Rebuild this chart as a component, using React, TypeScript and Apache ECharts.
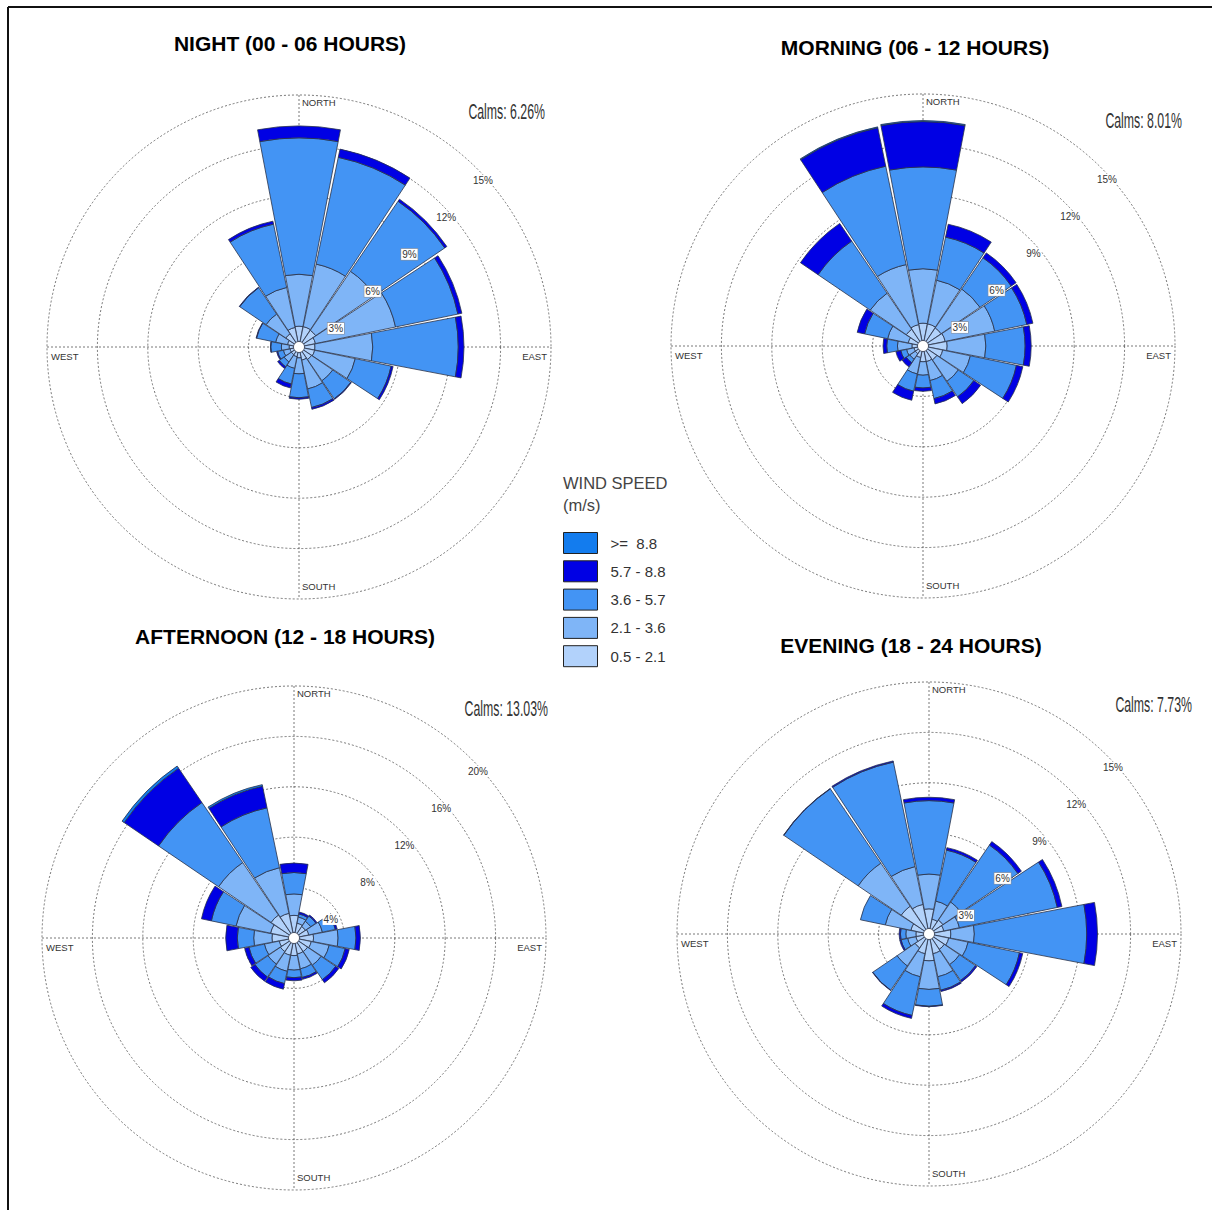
import React, { useEffect, useRef } from "react";
import * as echarts from "echarts";

// Sixteen compass sectors, clockwise from north
const DIRECTIONS = ["N", "NNE", "NE", "ENE", "E", "ESE", "SE", "SSE", "S", "SSW", "SW", "WSW", "W", "WNW", "NW", "NNW"];

// Wind speed classes (m/s), innermost first
const SPEED_CLASSES = ["0.5 - 2.1", "2.1 - 3.6", "3.6 - 5.7", "5.7 - 8.8", ">=  8.8"];
const SPEED_COLORS = ["#b2d2fb", "#7fb5f7", "#4394f4", "#0000e4", "#137cee"];

// Ring tick values (%)
const TICKS_3 = [3, 6, 9, 12, 15];
const TICKS_4 = [4, 8, 12, 16, 20];

// NIGHT (00 - 06 HOURS): frequency (%) per direction for each speed class
const NIGHT_05_21 = [1.24, 1.24, 1.2, 1.0, 0.95, 0.95, 0.9, 0.8, 0.65, 0.59, 0.55, 0.55, 0.59, 0.7, 0.95, 1.19];
const NIGHT_21_36 = [3.09, 3.8, 4.25, 4.87, 3.44, 2.47, 1.53, 1.75, 0.95, 0.71, 0.52, 0.4, 0.46, 0.72, 1.42, 2.43];
const NIGHT_36_57 = [8.12, 6.49, 5.04, 3.79, 5.09, 2.18, 1.3, 1.13, 1.42, 0.95, 0.35, 0.35, 0.63, 1.16, 1.9, 3.85];
const NIGHT_57_88 = [0.71, 0.5, 0.15, 0.24, 0.34, 0.12, 0.04, 0.11, 0.09, 0.24, 0.12, 0.06, 0.02, 0.03, 0.03, 0.18];
const NIGHT_88_UP = [0, 0, 0, 0, 0, 0, 0, 0, 0, 0, 0, 0, 0, 0, 0, 0];

// MORNING (06 - 12 HOURS)
const MORNING_05_21 = [1.36, 1.35, 1.3, 1.35, 1.44, 1.2, 1.0, 0.95, 0.94, 0.7, 0.55, 0.55, 0.66, 0.9, 1.2, 1.3];
const MORNING_21_36 = [3.24, 2.65, 2.8, 3.01, 2.3, 1.68, 1.54, 1.15, 0.8, 1.0, 0.4, 0.45, 0.86, 1.25, 2.6, 3.65];
const MORNING_36_57 = [6.06, 2.62, 2.25, 1.95, 2.34, 2.8, 1.12, 1.1, 0.76, 1.05, 0.25, 0.35, 0.64, 1.4, 3.75, 5.98];
const MORNING_57_88 = [2.7, 0.78, 0.35, 0.37, 0.36, 0.39, 0.49, 0.32, 0.2, 0.55, 0.3, 0.3, 0.22, 0.45, 1.27, 2.34];
const MORNING_88_UP = [0.06, 0, 0, 0, 0, 0, 0, 0, 0, 0, 0, 0, 0, 0, 0, 0.05];

// AFTERNOON (12 - 18 HOURS)
const AFTERNOON_05_21 = [1.8, 1.2, 1.1, 1.2, 1.55, 1.4, 1.3, 1.3, 1.4, 1.4, 1.3, 1.2, 1.75, 1.9, 2.2, 2.0];
const AFTERNOON_21_36 = [1.7, 0.5, 0.5, 1.1, 1.95, 1.45, 1.3, 1.2, 1.15, 1.3, 1.2, 1.2, 1.45, 2.8, 5.04, 3.7];
const AFTERNOON_36_57 = [1.7, 0.25, 0.5, 1.05, 1.42, 1.3, 1.4, 0.7, 0.6, 1.0, 1.25, 1.25, 1.3, 2.0, 5.76, 4.85];
const AFTERNOON_57_88 = [0.75, 0.15, 0.1, 0.15, 0.35, 0.33, 0.3, 0.15, 0.25, 0.45, 0.4, 0.35, 0.92, 0.8, 3.3, 1.75];
const AFTERNOON_88_UP = [0, 0, 0, 0, 0, 0, 0, 0, 0, 0, 0, 0, 0, 0, 0.2, 0.13];

// EVENING (18 - 24 HOURS)
const EVENING_05_21 = [1.5, 0.9, 1.0, 0.9, 1.3, 1.2, 1.1, 1.2, 1.6, 1.2, 1.0, 0.8, 0.78, 1.1, 2.0, 1.8];
const EVENING_21_36 = [2.07, 1.1, 1.3, 0.95, 1.4, 1.18, 1.1, 1.4, 1.7, 1.4, 1.3, 0.5, 0.6, 1.56, 3.1, 2.3];
const EVENING_36_57 = [4.37, 3.1, 4.1, 5.95, 6.69, 3.12, 1.15, 0.82, 1.0, 2.35, 1.75, 0.4, 0.32, 1.51, 5.35, 6.35];
const EVENING_57_88 = [0.2, 0.15, 0.25, 0.28, 0.64, 0.2, 0.1, 0.08, 0.03, 0.18, 0.02, 0.08, 0.08, 0, 0.02, 0.07];
const EVENING_88_UP = [0, 0, 0, 0, 0, 0, 0, 0, 0, 0, 0, 0, 0, 0, 0, 0];

const ROSES = [
  { title: "NIGHT (00 - 06 HOURS)", calms: "Calms: 6.26%", ticks: TICKS_3,
    bands: [NIGHT_05_21, NIGHT_21_36, NIGHT_36_57, NIGHT_57_88, NIGHT_88_UP] },
  { title: "MORNING (06 - 12 HOURS)", calms: "Calms: 8.01%", ticks: TICKS_3,
    bands: [MORNING_05_21, MORNING_21_36, MORNING_36_57, MORNING_57_88, MORNING_88_UP] },
  { title: "AFTERNOON (12 - 18 HOURS)", calms: "Calms: 13.03%", ticks: TICKS_4,
    bands: [AFTERNOON_05_21, AFTERNOON_21_36, AFTERNOON_36_57, AFTERNOON_57_88, AFTERNOON_88_UP] },
  { title: "EVENING (18 - 24 HOURS)", calms: "Calms: 7.73%", ticks: TICKS_3,
    bands: [EVENING_05_21, EVENING_21_36, EVENING_36_57, EVENING_57_88, EVENING_88_UP] },
];

// Placement of each rose on the page
const LAYOUT = [
  { cx: 299, cy: 347, title: [290, 43], calms: [545, 112] },
  { cx: 923, cy: 346, title: [915, 47], calms: [1182, 121] },
  { cx: 294, cy: 938, title: [285, 636], calms: [548, 709] },
  { cx: 929, cy: 934, title: [911, 645], calms: [1192, 705] },
];
const ROSE_RADIUS = 252;
const FONT = '"Liberation Sans", Arial, Helvetica, sans-serif';
const GRID_COLOR = "#555";
const OUTLINE = "#28324a";

function buildOption() {
  const polar: any[] = [];
  const angleAxis: any[] = [];
  const radiusAxis: any[] = [];
  const series: any[] = [];
  const graphic: any[] = [];

  ROSES.forEach((rose, i) => {
    const { cx, cy } = LAYOUT[i];
    const R = ROSE_RADIUS;
    const max = rose.ticks[rose.ticks.length - 1];
    const step = rose.ticks[0];

    polar.push({ center: [cx, cy], radius: [0, R] });
    angleAxis.push({
      polarIndex: i,
      type: "category",
      data: DIRECTIONS,
      startAngle: 90 + 360 / DIRECTIONS.length / 2,
      clockwise: true,
      boundaryGap: true,
      axisLine: { show: false },
      axisTick: { show: false },
      axisLabel: { show: false },
      splitLine: { show: false },
    });
    radiusAxis.push({
      polarIndex: i,
      type: "value",
      min: 0,
      max,
      interval: step,
      axisLine: { show: false },
      axisTick: { show: false },
      axisLabel: { show: false },
      splitLine: { show: true, lineStyle: { color: GRID_COLOR, width: 0.8, type: [2, 2] } },
    });

    rose.bands.forEach((values, k) => {
      series.push({
        type: "bar",
        name: SPEED_CLASSES[k],
        coordinateSystem: "polar",
        polarIndex: i,
        stack: "rose" + i,
        barCategoryGap: "4%",
        silent: true,
        data: values.map((v) => (v > 0 ? v : "-")),
        itemStyle: { color: SPEED_COLORS[k], borderColor: OUTLINE, borderWidth: 0.8 },
      });
    });

    // compass cross through the centre
    graphic.push({
      type: "line", z: 0, silent: true,
      shape: { x1: cx, y1: cy - R, x2: cx, y2: cy + R },
      style: { stroke: GRID_COLOR, lineWidth: 0.8, lineDash: [2, 2] },
    });
    graphic.push({
      type: "line", z: 0, silent: true,
      shape: { x1: cx - R, y1: cy, x2: cx + R, y2: cy },
      style: { stroke: GRID_COLOR, lineWidth: 0.8, lineDash: [2, 2] },
    });
    // calm hole
    graphic.push({
      type: "circle", z: 60, silent: true,
      shape: { cx, cy, r: 5.5 },
      style: { fill: "#fff", stroke: OUTLINE, lineWidth: 0.8 },
    });

    // compass point names
    const dirText = (text: string, x: number, y: number, align: string) => ({
      type: "text", z: 60, silent: true, x, y,
      style: { text, fill: "#333", fontSize: 9.5, fontFamily: FONT, align, verticalAlign: "middle" },
    });
    graphic.push(dirText("NORTH", cx + 3, cy - R + 7, "left"));
    graphic.push(dirText("SOUTH", cx + 3, cy + R - 13, "left"));
    graphic.push(dirText("WEST", cx - R + 4, cy + 9, "left"));
    graphic.push(dirText("EAST", cx + R - 4, cy + 9, "right"));

    // ring percentages along the north-east diagonal
    const totals = DIRECTIONS.map((_, d) => rose.bands.reduce((s, b) => s + b[d], 0));
    const reach = Math.max(totals[2], totals[3]);
    rose.ticks.forEach((t) => {
      const rv = (t / max) * R;
      const boxed = t < reach;
      graphic.push({
        type: "text", z: 70, silent: true,
        x: cx + 0.73 * rv,
        y: cy - 0.735 * rv + 18.5,
        style: {
          text: t + "%",
          fill: "#333",
          fontSize: 10,
          fontFamily: FONT,
          align: "center",
          verticalAlign: "middle",
          backgroundColor: "#fff",
          padding: [1, 1, 0, 1],
          borderColor: boxed ? "#8a8f99" : "transparent",
          borderWidth: boxed ? 0.6 : 0,
        },
      });
    });

    // panel title and calms share
    graphic.push({
      type: "text", z: 60, silent: true,
      x: LAYOUT[i].title[0], y: LAYOUT[i].title[1],
      style: { text: rose.title, fill: "#000", fontSize: 21, fontWeight: "bold", fontFamily: FONT, align: "center", verticalAlign: "middle" },
    });
    graphic.push({
      type: "text", z: 60, silent: true,
      x: LAYOUT[i].calms[0], y: LAYOUT[i].calms[1], scaleX: 0.56,
      style: { text: rose.calms, fill: "#333", fontSize: 22, fontFamily: FONT, align: "right", verticalAlign: "middle" },
    });
  });

  // legend heading
  graphic.push({
    type: "text", z: 60, silent: true, x: 563, y: 483,
    style: { text: "WIND SPEED", fill: "#444", fontSize: 16.5, fontFamily: FONT, align: "left", verticalAlign: "middle" },
  });
  graphic.push({
    type: "text", z: 60, silent: true, x: 563, y: 505,
    style: { text: "(m/s)", fill: "#444", fontSize: 16.5, fontFamily: FONT, align: "left", verticalAlign: "middle" },
  });

  // page frame (top and left rules)
  graphic.push({ type: "line", z: 80, silent: true, shape: { x1: 8, y1: 7, x2: 1212, y2: 7 }, style: { stroke: "#111", lineWidth: 2 } });
  graphic.push({ type: "line", z: 80, silent: true, shape: { x1: 8, y1: 7, x2: 8, y2: 1210 }, style: { stroke: "#111", lineWidth: 2 } });

  return {
    animation: false,
    backgroundColor: "#fff",
    polar,
    angleAxis,
    radiusAxis,
    legend: {
      data: [...SPEED_CLASSES].reverse(),
      orient: "vertical",
      left: 558,
      top: 527,
      itemWidth: 34,
      itemHeight: 21,
      itemGap: 6.3,
      icon: "rect",
      selectedMode: false,
      itemStyle: { borderColor: "#222", borderWidth: 1 },
      textStyle: { fontSize: 15, color: "#333", fontFamily: FONT, padding: [0, 0, 0, 8] },
    },
    series,
    graphic,
  };
}

export default function App() {
  const ref = useRef<HTMLDivElement>(null);

  useEffect(() => {
    if (!ref.current) return;
    const chart = echarts.init(ref.current, undefined, { renderer: "svg" });
    chart.setOption(buildOption() as any);
    return () => chart.dispose();
  }, []);

  return (
    <div
      ref={ref}
      style={{ position: "fixed", left: 0, top: 0, width: 1212, height: 1210, background: "#fff" }}
    />
  );
}
